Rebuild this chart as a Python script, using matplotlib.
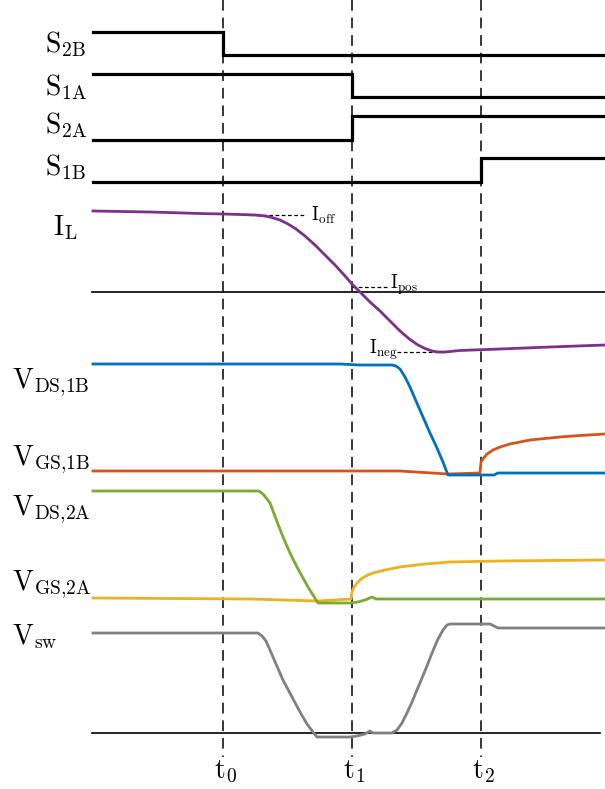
import matplotlib
matplotlib.use("Agg")
import matplotlib.pyplot as plt

plt.rcParams['mathtext.fontset'] = 'cm'
plt.rcParams['font.family'] = ['DejaVu Serif']

# ---- time markers (horizontal units) ----
t_start, t_end = 92, 605
t_marks = [223, 352, 481]
t_labels = [r'$\mathrm{t}_0$', r'$\mathrm{t}_1$', r'$\mathrm{t}_2$']

# ---- switch signals: (switch time, level before, level after) ----
sw_names = [r'$\mathrm{S}_{\mathrm{2B}}$', r'$\mathrm{S}_{\mathrm{1A}}$',
            r'$\mathrm{S}_{\mathrm{2A}}$', r'$\mathrm{S}_{\mathrm{1B}}$']
sw_times = [223, 352, 352, 481]
sw_before = [32, 74, 140, 182]
sw_after = [55, 97, 116, 158]
sw_label_y = [52, 95, 133, 175]

# ---- inductor current I_L ----
il_t = [93, 150, 200, 223, 240, 255, 265, 272, 280, 288, 296, 305, 315, 325,
        335, 345, 352, 360, 370, 380, 390, 400, 410, 418, 425, 432, 438, 445,
        460, 500, 550, 605]
il_v = [211, 212, 213.5, 214, 214.5, 215, 216, 217.5, 220, 224, 229, 236, 245,
        255, 265, 276, 284, 292, 302, 311, 321, 331, 339.5, 345, 348.5, 351,
        352, 352, 350.5, 349, 347, 345]
il_zero = 292

# ---- V_DS,1B (blue) ----
vds1b_t = [93, 340, 360, 385, 392, 396, 400, 405, 410, 416, 423, 430, 437, 443,
           448, 470, 494, 498, 605]
vds1b_v = [364, 364, 365, 365, 365, 366, 369, 377, 387, 401, 417, 433, 448, 462,
           475, 475, 475, 473, 473]

# ---- V_GS,1B (orange) ----
vgs1b_t = [93, 400, 448, 480, 481, 483, 487, 493, 500, 510, 520, 530, 545, 560,
           580, 605]
vgs1b_v = [471, 471, 474, 473, 462, 459, 454, 450, 447, 444, 442, 440, 438.5,
           437, 435.5, 434]

# ---- V_DS,2A (green) ----
vds2a_t = [93, 255, 259, 263, 267, 270, 276, 283, 290, 297, 303, 308, 313, 318,
           350, 358, 365, 372, 376, 605]
vds2a_v = [491, 491, 491, 494, 499, 503, 519, 537, 553, 567, 578, 587, 595, 603,
           603, 602, 600, 597, 599, 599]

# ---- V_GS,2A (yellow) ----
vgs2a_t = [93, 250, 318, 351, 352, 354, 357, 360, 364, 368, 373, 385, 400, 425,
           450, 500, 550, 605]
vgs2a_v = [598, 599, 601, 599, 592, 587, 583, 580, 577, 575, 573, 570, 567, 564,
           562, 561, 560.5, 560]

# ---- V_sw (gray) ----
vsw_t = [93, 255, 258, 262, 266, 270, 276, 283, 292, 300, 307, 313, 317, 350,
         357, 365, 370, 373, 392, 397, 402, 407, 412, 417, 422, 427, 432, 438,
         443, 447, 450, 490, 494, 498, 605]
vsw_v = [633, 633, 633, 636, 641, 650, 664, 680, 697, 712, 724, 732, 737, 737,
         736, 734, 731, 733, 733, 730, 723, 713, 702, 690, 678, 666, 653, 639,
         630, 625, 624, 624, 626, 628, 628]
vsw_zero = 733

# ---- colours ----
c_il = '#7E2F8E'
c_vds1b = '#0072BD'
c_vgs1b = '#D95319'
c_vds2a = '#77AC30'
c_vgs2a = '#EDB120'
c_vsw = '#808080'

fig = plt.figure(figsize=(6.05, 7.89), dpi=100)
ax = fig.add_axes([0, 0, 1, 1])
ax.set_xlim(0, 605)
ax.set_ylim(789, 0)
ax.axis('off')

lab_fs = 20
small_fs = 13.5

# dashed time markers
for tm, tl in zip(t_marks, t_labels):
    ax.plot([tm, tm], [0, 757], color='black', lw=1.1, ls=(0, (7, 4.5)), zorder=1)
    ax.text(tm - 9, 778, tl, fontsize=lab_fs, ha='left', va='baseline')

# switch signals
for name, ts, b, a, ly in zip(sw_names, sw_times, sw_before, sw_after, sw_label_y):
    ax.plot([93, ts, ts, t_end], [b, b, a, a], color='black', lw=2.3,
            solid_joinstyle='miter', zorder=3)
    ax.text(45, ly, name, fontsize=lab_fs, ha='left', va='baseline')

# I_L
ax.plot([t_start, t_end], [il_zero, il_zero], color='black', lw=1.2, zorder=2)
ax.plot(il_t, il_v, color=c_il, lw=2.0, zorder=3, solid_joinstyle='round')
ax.text(53, 235, r'$\mathrm{I}_{\mathrm{L}}$', fontsize=lab_fs, ha='left', va='baseline')

# current annotations
ax.plot([250, 305], [215, 215], color='black', lw=0.9, ls=(0, (3, 2)), zorder=2)
ax.text(311, 221, r'$\mathrm{I}_{\mathrm{off}}$', fontsize=small_fs, ha='left', va='baseline')
ax.plot([352, 388], [287, 287], color='black', lw=0.9, ls=(0, (3, 2)), zorder=2)
ax.text(390, 289, r'$\mathrm{I}_{\mathrm{pos}}$', fontsize=small_fs, ha='left', va='baseline')
ax.plot([397, 445], [352, 352], color='black', lw=0.9, ls=(0, (3, 2)), zorder=2)
ax.text(369, 354, r'$\mathrm{I}_{\mathrm{neg}}$', fontsize=small_fs, ha='left', va='baseline')

# voltages
ax.plot(vds1b_t, vds1b_v, color=c_vds1b, lw=2.0, zorder=4, solid_joinstyle='round')
ax.plot(vgs1b_t, vgs1b_v, color=c_vgs1b, lw=2.0, zorder=3, solid_joinstyle='round')
ax.plot(vgs2a_t, vgs2a_v, color=c_vgs2a, lw=2.0, zorder=3, solid_joinstyle='round')
ax.plot(vds2a_t, vds2a_v, color=c_vds2a, lw=2.0, zorder=4, solid_joinstyle='round')
ax.plot([t_start, 600], [vsw_zero, vsw_zero], color='black', lw=1.2, zorder=2)
ax.annotate('', xy=(607, vsw_zero), xytext=(595, vsw_zero),
            arrowprops=dict(arrowstyle='->', color='black', lw=1.2))
ax.plot(vsw_t, vsw_v, color=c_vsw, lw=2.0, zorder=3, solid_joinstyle='round')

ax.text(12, 388, r'$\mathrm{V}_{\mathrm{DS{,}1B}}$', fontsize=lab_fs, ha='left', va='baseline')
ax.text(12, 465, r'$\mathrm{V}_{\mathrm{GS{,}1B}}$', fontsize=lab_fs, ha='left', va='baseline')
ax.text(12, 515, r'$\mathrm{V}_{\mathrm{DS{,}2A}}$', fontsize=lab_fs, ha='left', va='baseline')
ax.text(12, 590, r'$\mathrm{V}_{\mathrm{GS{,}2A}}$', fontsize=lab_fs, ha='left', va='baseline')
ax.text(12, 644, r'$\mathrm{V}_{\mathrm{sw}}$', fontsize=lab_fs, ha='left', va='baseline')

fig.savefig('out.png', dpi=100)
